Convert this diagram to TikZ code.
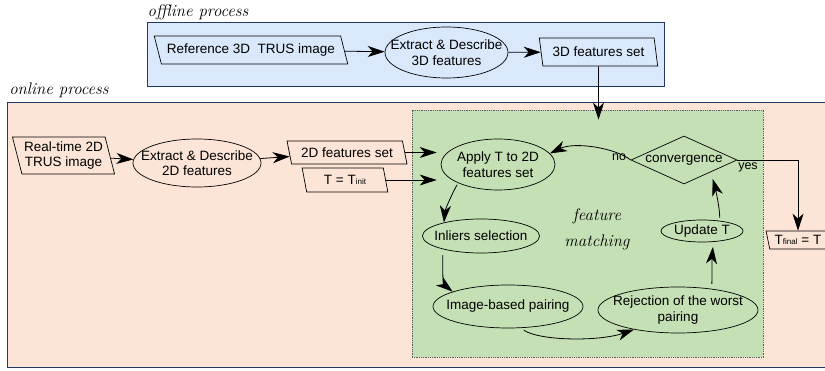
\documentclass[tikz,border=0pt]{standalone}
\usepackage{fontspec}
\usepackage{tikz}
\usetikzlibrary{shapes.geometric,arrows.meta}
\newfontfamily\arialf{Liberation Sans}
\definecolor{offblue}{HTML}{DAE8FC}
\definecolor{onpeach}{HTML}{FCE4D6}
\definecolor{matchgreen}{HTML}{C5E0B4}
\definecolor{boxline}{HTML}{1F3864}

\begin{document}
\begin{tikzpicture}[x=1pt,y=-1pt,
  txt/.style={font=\arialf\fontsize{13.5}{15.5}\selectfont, align=center},
  small/.style={font=\arialf\fontsize{12.5}{14}\selectfont, inner sep=0pt},
  hand/.style={font=\itshape\fontsize{16.8}{26}\selectfont, align=center, inner sep=0pt},
  region/.style={draw=boxline, line width=.8pt},
  proc/.style={ellipse, draw, line width=.7pt, inner sep=0pt},
  dataio/.style={trapezium, trapezium stretches=true, draw, line width=.7pt, inner sep=1pt, txt},
  arr/.style={-{Stealth[length=17pt,width=11pt,inset=5pt]}, line width=.8pt}]
\useasboundingbox (0,0) rectangle (825,371);
\clip (0,0) rectangle (825,371);

\node[region, fill=offblue, minimum width=517, minimum height=64] (offline) at (405.5,54) {};
\node[region, fill=onpeach, minimum width=823, minimum height=265] (online) at (418.5,234.5) {};
\node[fill=matchgreen, draw=black!65, densely dotted, line width=.8pt, minimum width=351, minimum height=247] (matching) at (587.5,233.5) {};
\node[hand] (offlab) at (198,12) {offline process};
\node[hand] (onlab) at (59,90) {online process};
\node[hand] (matchlab) at (597,229) {feature\\matching};

\node[dataio, trapezium left angle=115, trapezium right angle=65, minimum width=194, minimum height=28] (ref) at (251,50) {Reference 3D~ TRUS image};
\node[proc, minimum width=123, minimum height=51, label={[txt]center:Extract \& Describe\\3D features}] (ell3d) at (446.5,52.5) {};
\node[dataio, trapezium left angle=104, trapezium right angle=76, minimum width=119, minimum height=28] (set3d) at (598.5,52) {3D features set};

\node[dataio, trapezium left angle=107, trapezium right angle=73, minimum width=103, minimum height=37] (rt2d) at (63.5,155.5) {Real-time 2D\\TRUS image};
\node[proc, minimum width=128, minimum height=48, label={[txt]center:Extract \& Describe\\2D features}] (ell2d) at (197,163) {};
\node[dataio, trapezium left angle=108, trapezium right angle=72, minimum width=120, minimum height=23] (set2d) at (347,152.5) {2D features set};
\node[dataio, trapezium left angle=103, trapezium right angle=77, minimum width=86, minimum height=24] (tinit) at (345,180) {T = T{\fontsize{8}{9}\selectfont init}};

\node[proc, minimum width=114, minimum height=51, label={[txt]center:Apply T to 2D\\features set}] (apply) at (498,164.5) {};
\node[diamond, draw, line width=.7pt, inner sep=0pt, minimum width=106, minimum height=48,
  label={[txt]center:convergence}] (conv) at (684,160) {};
\node[proc, minimum width=117, minimum height=34, label={[txt]center:Inliers selection}] (inliers) at (481,236) {};
\node[proc, minimum width=150, minimum height=43, label={[txt]center:Image-based pairing}] (imgpair) at (508,306.5) {};
\node[proc, minimum width=160, minimum height=46, label={[txt]center:Rejection of the worst\\pairing}] (reject) at (678,310) {};
\node[proc, minimum width=82, minimum height=22, label={[txt]center:Update T}] (update) at (702,231) {};
\node[dataio, trapezium left angle=105.5, trapezium right angle=74.5, minimum width=64, minimum height=18] (tfinal) at (798,240) {T{\fontsize{8}{9}\selectfont final} = T};
\node[small] (nolab) at (619,157) {no};
\node[small] (yeslab) at (748,167) {yes};

\draw[arr] (ref) -- (ell3d);
\draw[arr] (ell3d) -- (set3d);
\draw[arr, shorten >=-10pt] (set3d) -- (set3d |- matching.north);
\draw[arr] (rt2d) -- (ell2d);
\draw[arr] (ell2d) -- (set2d);
\draw[arr, shorten >=4pt] (set2d) -- (set2d -| apply.west);
\draw[arr, shorten >=4pt] (tinit) -- (tinit -| apply.west);
\draw[arr] (conv.west) .. controls +(-15,-12) and +(25,-12) .. (apply.12);
\draw[arr] (conv.east) -| (tfinal.north);
\draw[arr, shorten <=2pt] (apply.205) .. controls +(-6,10) and +(1,-12) .. (inliers.160);
\draw[arr, shorten <=6pt] (inliers.199) .. controls +(0,15) and +(-10,-8) .. (imgpair.165);
\draw[arr, shorten <=4pt] (imgpair.300) .. controls +(20,13) and +(-35,12) .. (reject.204);
\draw[arr, shorten <=5pt, shorten >=5pt] (reject.32) .. controls +(0,-15) and +(-1,12) .. (update.316);
\draw[arr, shorten <=3pt, shorten >=7pt] (update.30) .. controls +(0,-15) and +(3,10) .. (conv.south east);
\end{tikzpicture}
\end{document}
